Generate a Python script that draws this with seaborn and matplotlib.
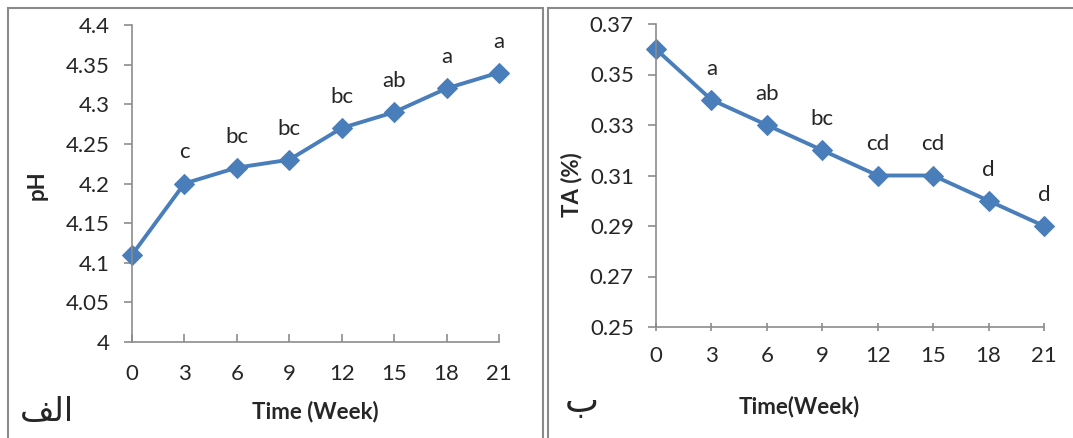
import seaborn as sns
import matplotlib.pyplot as plt
from matplotlib.patches import Rectangle

# data
weeks = [0, 3, 6, 9, 12, 15, 18, 21]
ph = [4.11, 4.20, 4.22, 4.23, 4.27, 4.29, 4.32, 4.34]
ph_letters = ["", "c", "bc", "bc", "bc", "ab", "a", "a"]
ta = [0.36, 0.34, 0.33, 0.32, 0.31, 0.31, 0.30, 0.29]
ta_letters = ["", "a", "ab", "bc", "cd", "cd", "d", "d"]
ph_ticks = [4.0, 4.05, 4.1, 4.15, 4.2, 4.25, 4.3, 4.35, 4.4]
ph_tick_labels = ["4", "4.05", "4.1", "4.15", "4.2", "4.25", "4.3", "4.35", "4.4"]
ta_ticks = [0.25, 0.27, 0.29, 0.31, 0.33, 0.35, 0.37]
ta_tick_labels = ["0.25", "0.27", "0.29", "0.31", "0.33", "0.35", "0.37"]
# panel captions "الف" and "ب", written in presentation forms so they show joined
caption_left = "\ufed2\ufedf\ufe8d"
caption_right = "\ufe8f"

sns.set_style("white")
plt.rcParams['font.family'] = ['Lato', 'DejaVu Sans']

blue = "#4a7ebb"
axis_grey = "#8c8c8c"
fs = 16

fig = plt.figure(figsize=(10.73, 4.38), dpi=100)
ax1 = fig.add_axes([132 / 1073, 1 - 342 / 438, (499 - 132) / 1073, (342 - 25) / 438])
ax2 = fig.add_axes([656 / 1073, 1 - 327 / 438, (1044 - 656) / 1073, (327 - 24) / 438])


def draw_panel(ax, y, letters, ticks, tick_labels, x_tick_dir, x_pad):
    sns.lineplot(x=weeks, y=y, ax=ax, color=blue, marker="D", markersize=10.5,
                 markeredgecolor=blue, linewidth=2.8, clip_on=False)
    for xv, yv, lab in zip(weeks, y, letters):
        if lab:
            ax.annotate(lab, (xv, yv), xytext=(0, 18), textcoords="offset points",
                        ha="center", va="baseline", fontsize=fs, color="#262626")
    ax.set_xlim(0, 21)
    ax.set_ylim(ticks[0], ticks[-1])
    ax.set_xticks(weeks)
    ax.set_xticklabels([str(w) for w in weeks])
    ax.set_yticks(ticks)
    ax.set_yticklabels(tick_labels)
    for side in ["top", "right"]:
        ax.spines[side].set_visible(False)
    for side in ["left", "bottom"]:
        ax.spines[side].set_color(axis_grey)
        ax.spines[side].set_linewidth(1.2)
    ax.tick_params(axis="y", direction="out", length=6, width=1.2, color=axis_grey,
                   labelsize=fs, pad=10, labelcolor="#262626", left=True)
    ax.tick_params(axis="x", direction=x_tick_dir, length=6, width=1.2, color=axis_grey,
                   labelsize=fs, pad=x_pad, labelcolor="#262626", bottom=True)
    ax.set_xlabel("")
    ax.set_ylabel("")


draw_panel(ax1, ph, ph_letters, ph_ticks, ph_tick_labels, "in", 16)
draw_panel(ax2, ta, ta_letters, ta_ticks, ta_tick_labels, "inout", 11)

fig.text(37 / 1073, 1 - 185 / 438, "pH", rotation=90, ha="center", va="center",
         fontsize=fs, fontweight="bold")
fig.text(315 / 1073, 1 - 412 / 438, "Time (Week)", ha="center", va="center",
         fontsize=fs, fontweight="bold")
fig.text(572 / 1073, 1 - 185 / 438, "TA (%)", rotation=90, ha="center", va="center",
         fontsize=fs, fontweight="bold")
fig.text(799 / 1073, 1 - 407 / 438, "Time(Week)", ha="center", va="center",
         fontsize=fs, fontweight="bold")
fig.text(47 / 1073, 1 - 412 / 438, caption_left, ha="center", va="center",
         fontsize=24, family=["DejaVu Sans"])
fig.text(582 / 1073, 1 - 402 / 438, caption_right, ha="center", va="center",
         fontsize=26, family=["DejaVu Sans"])

# frames around the two panels
fig.add_artist(Rectangle((8 / 1073, -0.1), (543 - 8) / 1073, 1.1 - 8 / 438,
                         transform=fig.transFigure, fill=False,
                         edgecolor="#8a8a8a", linewidth=1.5))
fig.add_artist(Rectangle((548 / 1073, -0.1), 0.6, 1.1 - 8 / 438,
                         transform=fig.transFigure, fill=False,
                         edgecolor="#8a8a8a", linewidth=1.5))

plt.savefig("out.png", dpi=100)
